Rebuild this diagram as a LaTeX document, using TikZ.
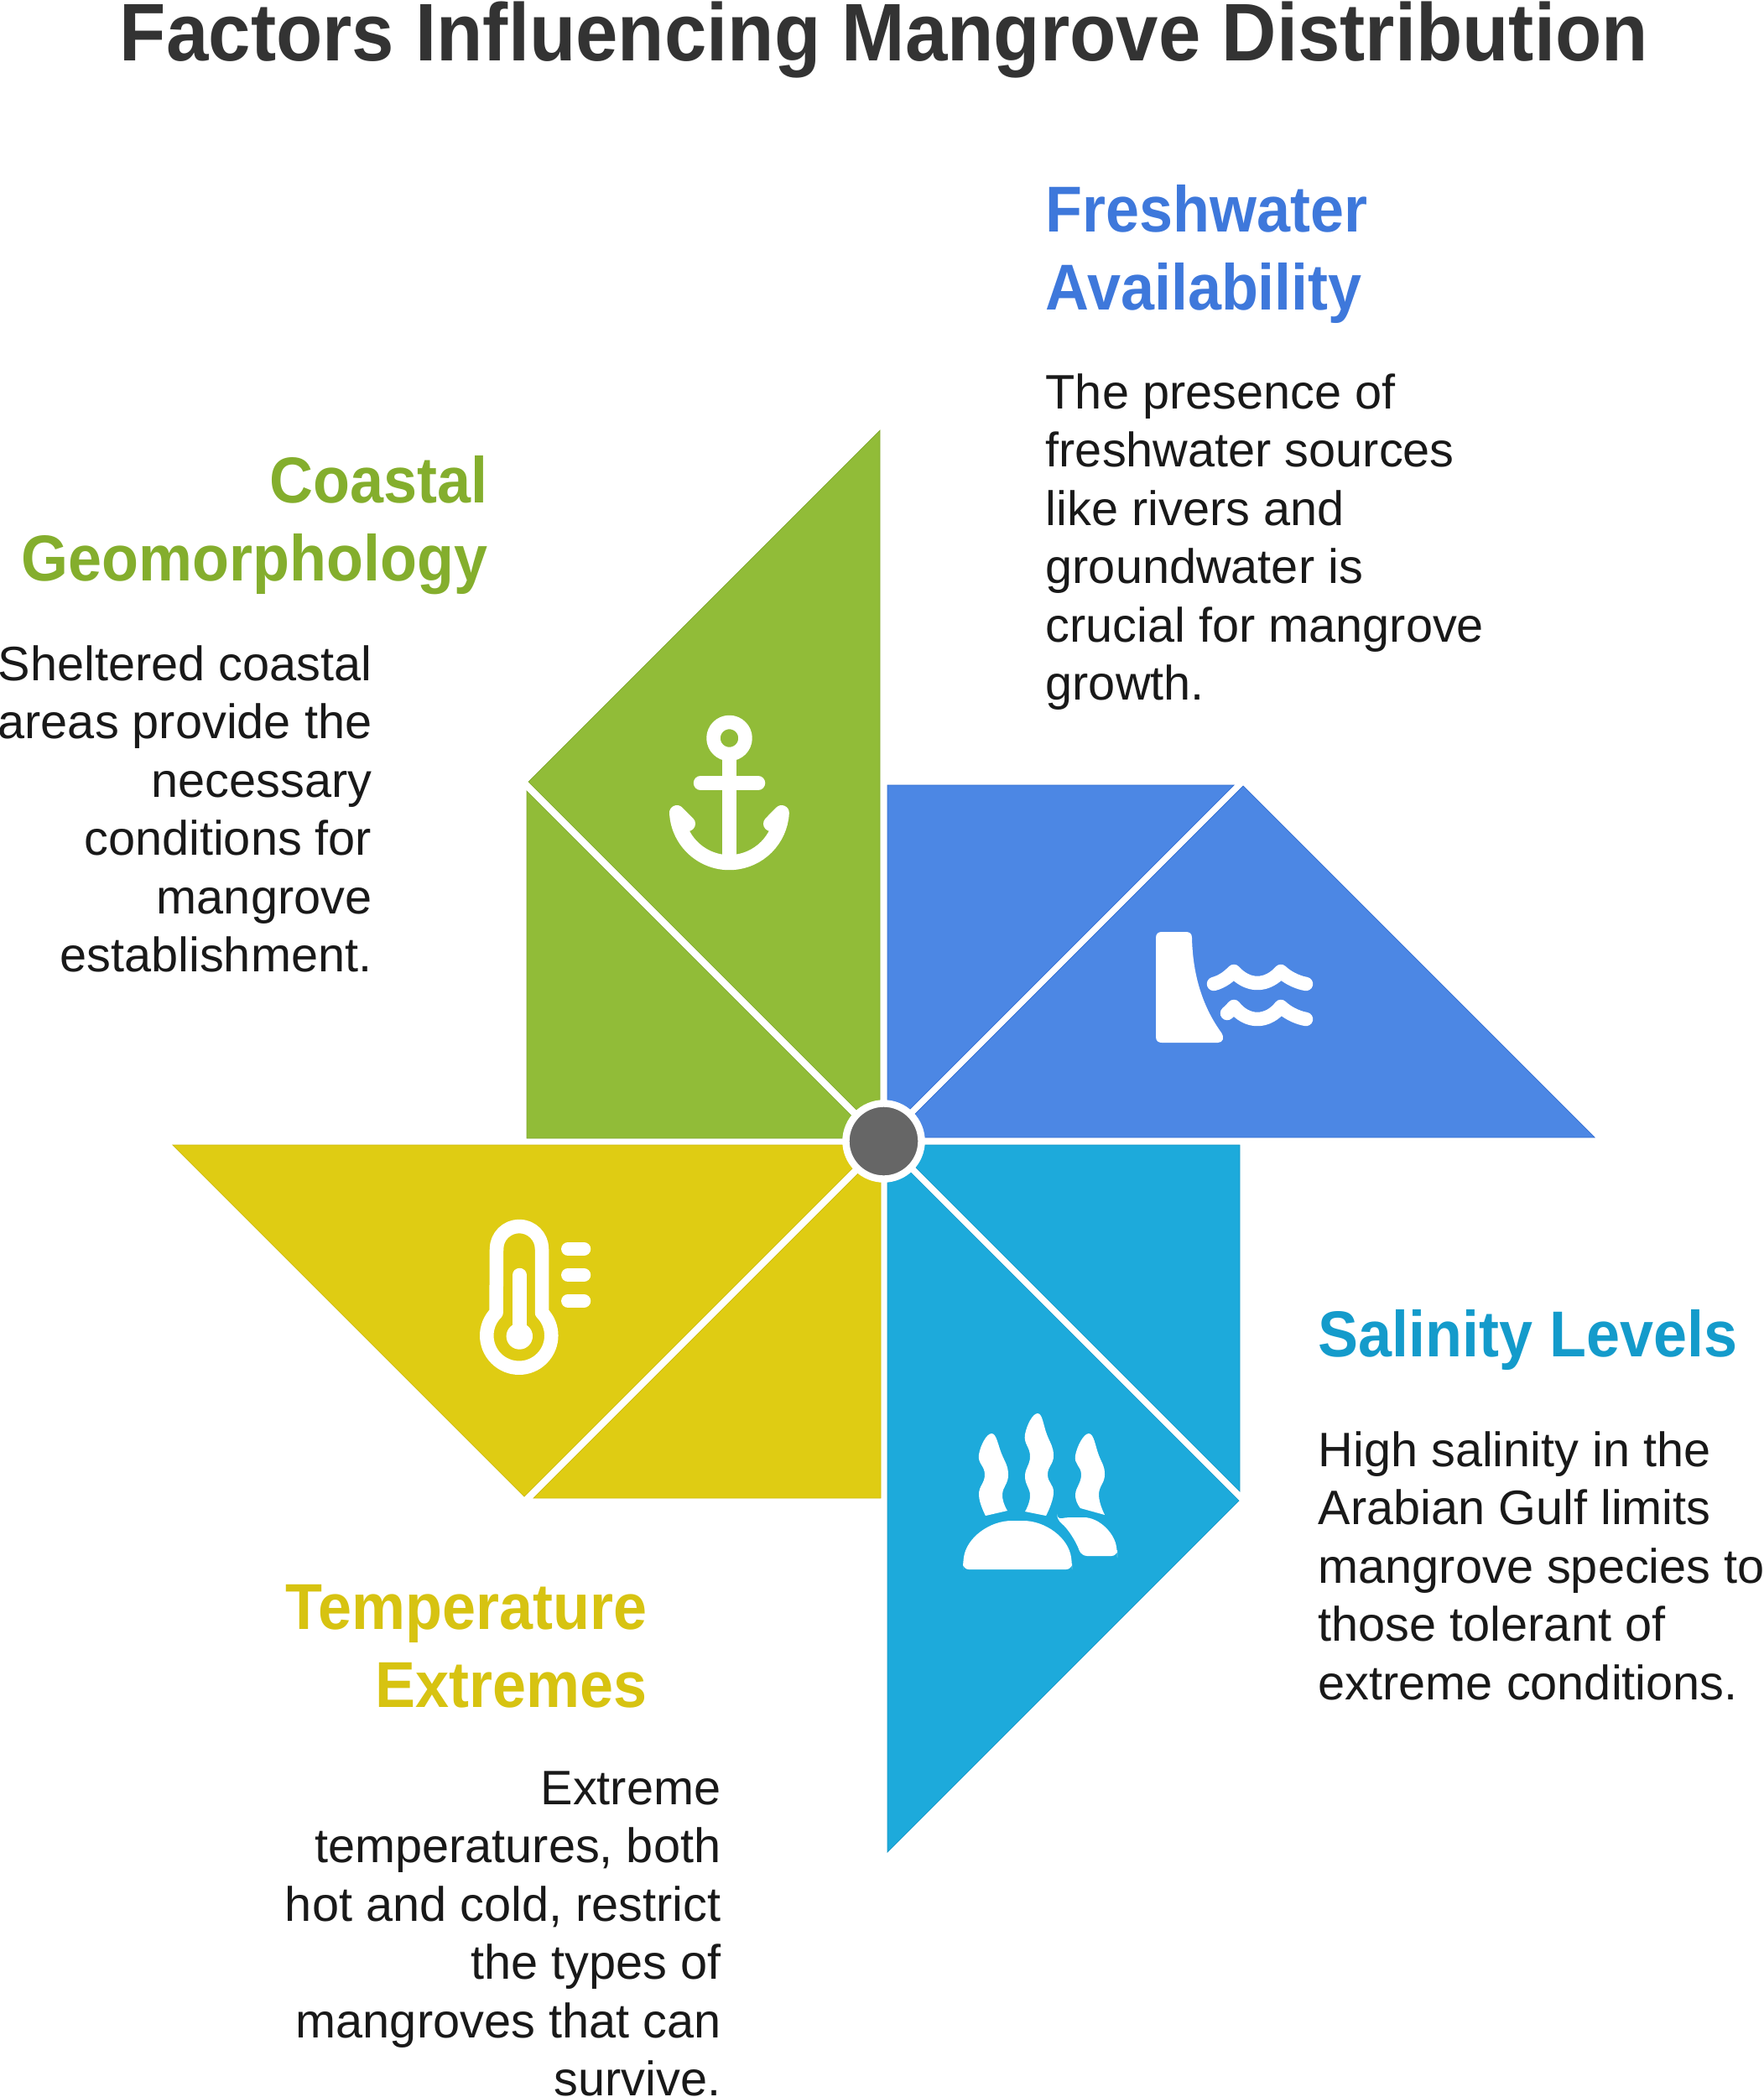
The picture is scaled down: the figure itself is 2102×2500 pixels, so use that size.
\documentclass[tikz,border=0pt]{standalone}
\usepackage{fontspec}
\setmainfont[BoldFeatures={FakeStretch=0.93}]{Liberation Sans}
\pgfdeclarelayer{edgelayer}
\pgfdeclarelayer{nodelayer}
\pgfsetlayers{edgelayer,nodelayer,main}
\definecolor{lgreen}{HTML}{91BC38}
\definecolor{dgreen}{HTML}{7FA62E}
\definecolor{tgreen}{HTML}{84AE2D}
\definecolor{lblue}{HTML}{4C87E4}
\definecolor{dblue}{HTML}{2F6BD0}
\definecolor{tblue}{HTML}{3E78DB}
\definecolor{lteal}{HTML}{1DAADB}
\definecolor{dteal}{HTML}{1496C4}
\definecolor{tteal}{HTML}{149BCB}
\definecolor{lyellow}{HTML}{DFCC13}
\definecolor{dyellow}{HTML}{CDBB10}
\definecolor{tyellow}{HTML}{D7C311}
\tikzstyle{blade}=[line width=0.2pt, line join=miter]
\tikzstyle{title}=[font=\fontsize{27.7}{28}\selectfont\bfseries, text=black!80, inner sep=0pt]
\tikzstyle{heading}=[font=\fontsize{22}{26.37}\selectfont\bfseries, inner sep=0pt]
\tikzstyle{body}=[font=\fontsize{16.4}{19.75}\selectfont, text=black!90, inner sep=0pt]
\tikzstyle{hub}=[circle, fill=black!60, draw=white, line width=2.4pt, inner sep=0pt, minimum size=0.9cm]
\tikzstyle{iconline}=[draw=white, line width=16.5*0.2845pt, line cap=round, line join=round]
\tikzstyle{iconfill}=[fill=white]
\begin{document}
\begin{tikzpicture}[x=0.01cm, y=-0.01cm]
            \useasboundingbox (0, 0) rectangle (2102, 2500);
            \begin{pgfonlayer}{edgelayer}
                \filldraw [style=blade, fill=lgreen, draw=dgreen] (1049, 513) -- (630, 932) -- (1049, 1351) -- cycle;
                \filldraw [style=blade, fill=lgreen, draw=dgreen] (628, 943) -- (628, 1357) -- (1042, 1357) -- cycle;
                \filldraw [style=blade, fill=lblue, draw=dblue] (1901, 1356) -- (1482, 937) -- (1063, 1356) -- cycle;
                \filldraw [style=blade, fill=lblue, draw=dblue] (1471, 936) -- (1058, 936) -- (1058, 1349) -- cycle;
                \filldraw [style=blade, fill=lteal, draw=dteal] (1058, 2208) -- (1477, 1789) -- (1058, 1370) -- cycle;
                \filldraw [style=blade, fill=lteal, draw=dteal] (1478, 1778) -- (1478, 1365) -- (1065, 1365) -- cycle;
                \filldraw [style=blade, fill=lyellow, draw=dyellow] (206, 1365) -- (625, 1784) -- (1044, 1365) -- cycle;
                \filldraw [style=blade, fill=lyellow, draw=dyellow] (636, 1786) -- (1050, 1786) -- (1050, 1372) -- cycle;
            \end{pgfonlayer}
            \begin{pgfonlayer}{nodelayer}
                \node [style=hub] (hub) at (1053.5, 1360.5) {};
                \node [style=title] (title) at (1054, 48) {Factors Influencing Mangrove Distribution};

                \node [style=heading, text=tblue, anchor=north west, align=left] (freshwater) at (1246, 220) {Freshwater\\Availability};
                \node [style=body, anchor=north west, align=left] (freshwatertext) at (1246, 445) {The presence of\\freshwater sources\\like rivers and\\groundwater is\\crucial for mangrove\\growth.};

                \node [style=heading, text=tgreen, anchor=north east, align=right] (coastal) at (582, 543) {Coastal\\Geomorphology};
                \node [style=body, anchor=north east, align=right] (coastaltext) at (444, 769) {Sheltered coastal\\areas provide the\\necessary\\conditions for\\mangrove\\establishment.};

                \node [style=heading, text=tteal, anchor=north west, align=left] (salinity) at (1571, 1561) {Salinity Levels};
                \node [style=body, anchor=north west, align=left] (salinitytext) at (1571, 1706) {High salinity in the\\Arabian Gulf limits\\mangrove species to\\those tolerant of\\extreme conditions.};

                \node [style=heading, text=tyellow, anchor=north east, align=right] (temperature) at (772, 1889) {Temperature\\Extremes};
                \node [style=body, anchor=north east, align=right] (temperaturetext) at (860, 2111) {Extreme\\temperatures, both\\hot and cold, restrict\\the types of\\mangroves that can\\survive.};
            \end{pgfonlayer}

            % anchor
            \draw [style=iconline, line cap=butt] (869.5, 880) circle (19);
            \draw [style=iconline, line cap=butt] (869.5, 895) -- (869.5, 1030);
            \draw [style=iconline] (835, 933.5) -- (904, 933.5);
            \draw [style=iconline, line width=18*0.2845pt] (820, 982) -- (807, 969) arc (177:3:62.5) -- (919, 982);

            % dam and water
            \fill [style=iconfill] (1378, 1118) .. controls (1378, 1113) and (1381, 1111) .. (1385, 1111) -- (1414, 1111) .. controls (1418, 1111) and (1421, 1113) .. (1421, 1118) .. controls (1422, 1165) and (1435, 1202) .. (1456, 1231) .. controls (1460, 1237) and (1458, 1243) .. (1452, 1243) -- (1385, 1243) .. controls (1381, 1243) and (1378, 1241) .. (1378, 1236) -- cycle;
            \draw [style=iconline] (1447, 1173) .. controls (1458, 1170) and (1465, 1164) .. (1471, 1158) .. controls (1478, 1166) and (1488, 1172) .. (1499, 1172) .. controls (1510, 1172) and (1520, 1166) .. (1527, 1158) .. controls (1533, 1164) and (1545, 1171) .. (1557, 1173);
            \draw [style=iconline] (1463, 1208) .. controls (1466, 1206) and (1468, 1203) .. (1471, 1200) .. controls (1478, 1209) and (1488, 1215) .. (1499, 1215) .. controls (1510, 1215) and (1520, 1209) .. (1527, 1200) .. controls (1533, 1206) and (1545, 1213) .. (1557, 1215);

            % seaweed
            \fill [style=iconfill, rounded corners=2] (1148, 1864) .. controls (1152, 1833) and (1180, 1813) .. (1213, 1813) .. controls (1246, 1813) and (1274, 1833) .. (1278, 1864) -- (1278, 1871) -- (1148, 1871) -- cycle;
            \fill [style=iconfill, rounded corners=2] (1260, 1812) .. controls (1270, 1809) and (1278, 1809) .. (1285, 1809) .. controls (1310, 1809) and (1328, 1827) .. (1332, 1850) -- (1332, 1855) -- (1289, 1855) .. controls (1283, 1838) and (1273, 1822) .. (1260, 1812) -- cycle;
            \fill [style=iconfill] plot [smooth, tension=0.8] coordinates {(1175, 1807) (1167, 1782) (1174, 1758) (1167, 1734) (1182, 1709) (1194, 1733) (1202, 1758) (1195, 1782) (1201, 1801)} -- cycle;
            \fill [style=iconfill] plot [smooth, tension=0.8] coordinates {(1222, 1802) (1228, 1783) (1222, 1760) (1228, 1736) (1222, 1710) (1237, 1685) (1248, 1710) (1256, 1735) (1249, 1758) (1256, 1780) (1247, 1807)} -- cycle;
            \fill [style=iconfill] plot [smooth, tension=0.8] coordinates {(1288, 1798) (1282, 1782) (1289, 1758) (1282, 1735) (1298, 1709) (1310, 1735) (1317, 1758) (1310, 1782) (1317, 1806)} -- cycle;

            % thermometer
            \draw [style=iconline] (592, 1489) arc (180:360:27) -- (646, 1565) arc (-45:225:38.5) -- cycle;
            \draw [style=iconline] (619.3, 1520) -- (619.3, 1593);
            \fill [style=iconfill] (619.3, 1593) circle (15.7);
            \draw [style=iconline] (677.3, 1489) -- (696, 1489);
            \draw [style=iconline] (677.3, 1520) -- (696, 1520);
            \draw [style=iconline] (677.3, 1551) -- (696, 1551);
        \end{tikzpicture}
\end{document}
